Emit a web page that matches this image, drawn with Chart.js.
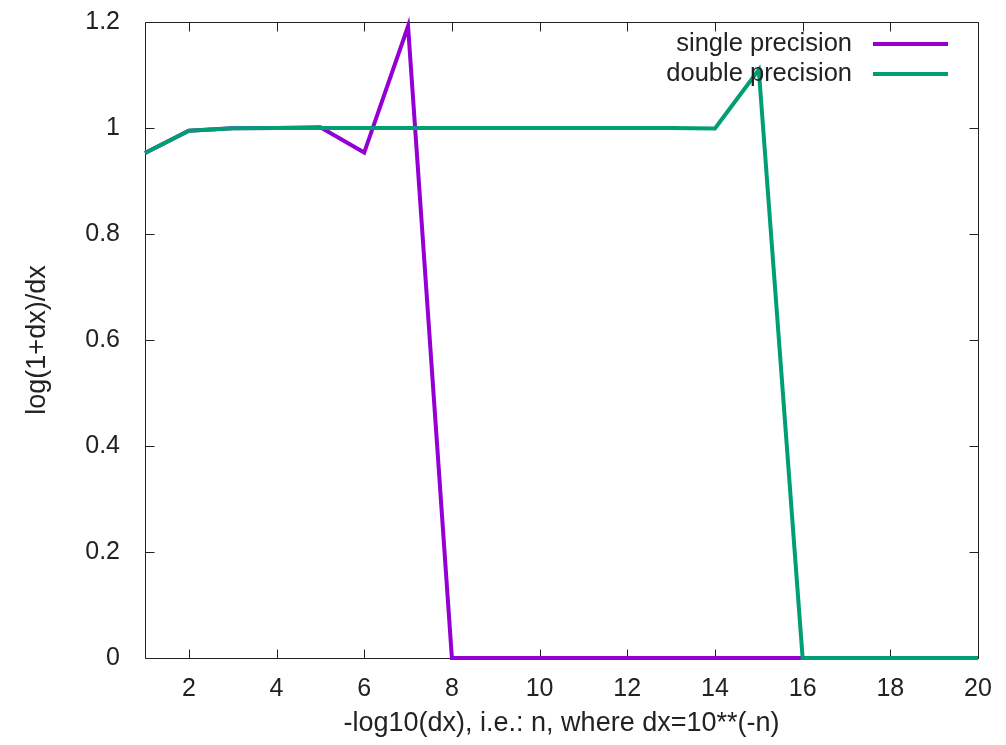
<!DOCTYPE html>
<html>
<head>
<meta charset="utf-8">
<script src="https://cdn.jsdelivr.net/npm/chart.js@4.4.1/dist/chart.umd.min.js"></script>
<style>
  html, body { margin: 0; padding: 0; background: #fff; }
  canvas { display: block; }
</style>
</head>
<body>
<canvas id="chart" width="1006" height="745"></canvas>
<script>
// Data
const nValues = [1, 2, 3, 4, 5, 6, 7, 8, 9, 10, 11, 12, 13, 14, 15, 16, 17, 18, 19, 20];
const singlePrecision = [0.953, 0.995, 0.9995, 1.0001, 1.0014, 0.9537, 1.192, 0, 0, 0, 0, 0, 0, 0, 0, 0, 0, 0, 0, 0];
const doublePrecision = [0.953, 0.995, 0.9995, 1.0, 1.0, 1.0, 1.0, 1.0, 1.0, 1.0, 1.0, 1.0, 1.0, 0.9992, 1.11, 0, 0, 0, 0, 0];
const seriesNames = ['single precision', 'double precision'];
const xTicks = [2, 4, 6, 8, 10, 12, 14, 16, 18, 20];
const yTicks = [0, 0.2, 0.4, 0.6, 0.8, 1, 1.2];

const FONT = '"Liberation Sans", Arial, sans-serif';
const PURPLE = '#9400d3';
const GREEN = '#009e73';

function toPoints(ys) {
    return nValues.map((x, i) => ({ x: x, y: ys[i] }));
}

// gnuplot-style border with inward ticks on all four sides
const framePlugin = {
    id: 'frame',
    beforeDatasetsDraw(chart) {
        const { ctx, chartArea: a, scales } = chart;
        const L = Math.round(a.left) + 0.5, R = Math.round(a.right) + 0.5;
        const T = Math.round(a.top) + 0.5, B = Math.round(a.bottom) + 0.5;
        const len = 9;
        ctx.save();
        ctx.strokeStyle = '#222';
        ctx.lineWidth = 1;
        ctx.beginPath();
        ctx.rect(L, T, R - L, B - T);
        xTicks.forEach(v => {
            const px = Math.round(scales.x.getPixelForValue(v)) + 0.5;
            ctx.moveTo(px, B); ctx.lineTo(px, B - len);
            ctx.moveTo(px, T); ctx.lineTo(px, T + len);
        });
        yTicks.forEach(v => {
            const py = Math.round(scales.y.getPixelForValue(v)) + 0.5;
            ctx.moveTo(L, py); ctx.lineTo(L + len, py);
            ctx.moveTo(R, py); ctx.lineTo(R - len, py);
        });
        ctx.stroke();
        ctx.restore();
    }
};

// legend inside the plot, top right, text right-aligned then a line sample
const legendPlugin = {
    id: 'insideLegend',
    afterDatasetsDraw(chart) {
        const { ctx } = chart;
        ctx.save();
        ctx.font = '25.5px ' + FONT;
        ctx.textAlign = 'right';
        ctx.textBaseline = 'middle';
        seriesNames.forEach((name, i) => {
            const ds = chart.data.datasets[i];
            const y = 44 + i * 30;
            ctx.fillStyle = '#222';
            ctx.fillText(name, 852, y);
            ctx.strokeStyle = ds.borderColor;
            ctx.lineWidth = 4;
            ctx.beginPath();
            ctx.moveTo(873, y);
            ctx.lineTo(948, y);
            ctx.stroke();
        });
        ctx.restore();
    }
};

new Chart(document.getElementById('chart'), {
    type: 'line',
    data: {
        datasets: [
            {
                label: seriesNames[0],
                data: toPoints(singlePrecision),
                borderColor: PURPLE,
                borderWidth: 4,
                pointRadius: 0,
                tension: 0,
                clip: 6,
                order: 1
            },
            {
                label: seriesNames[1],
                data: toPoints(doublePrecision),
                borderColor: GREEN,
                borderWidth: 4,
                pointRadius: 0,
                tension: 0,
                clip: 6,
                order: 0
            }
        ]
    },
    options: {
        responsive: false,
        animation: false,
        layout: { padding: { top: 22, right: 28, left: 0, bottom: 0 } },
        plugins: {
            legend: { display: false },
            tooltip: { enabled: false }
        },
        scales: {
            x: {
                type: 'linear',
                min: 1,
                max: 20,
                grid: { display: false },
                border: { display: false },
                afterBuildTicks: s => { s.ticks = xTicks.map(v => ({ value: v })); },
                afterFit: s => { s.height = 87; s.paddingLeft = 0; s.paddingRight = 0; },
                ticks: {
                    padding: 8,
                    color: '#222',
                    maxRotation: 0,
                    autoSkip: false,
                    font: { family: FONT, size: 25 }
                },
                title: {
                    display: true,
                    text: '-log10(dx), i.e.: n, where dx=10**(-n)',
                    color: '#222',
                    font: { family: FONT, size: 27 },
                    padding: { top: 0, bottom: 5 }
                }
            },
            y: {
                min: 0,
                max: 1.2,
                grid: { display: false },
                border: { display: false },
                afterBuildTicks: s => { s.ticks = yTicks.map(v => ({ value: v })); },
                afterFit: s => { s.width = 145; s.paddingTop = 0; s.paddingBottom = 0; },
                ticks: {
                    padding: 17,
                    color: '#222',
                    autoSkip: false,
                    font: { family: FONT, size: 25 },
                    callback: v => String(v)
                },
                title: {
                    display: true,
                    text: 'log(1+dx)/dx',
                    color: '#222',
                    font: { family: FONT, size: 27 },
                    padding: { top: 21, bottom: 0 }
                }
            }
        }
    },
    plugins: [framePlugin, legendPlugin]
});
</script>
</body>
</html>
